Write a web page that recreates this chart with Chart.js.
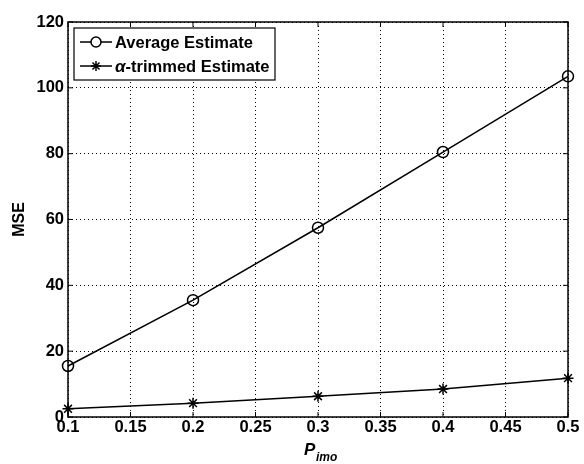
<!DOCTYPE html>
<html>
<head>
<meta charset="utf-8">
<script src="https://cdn.jsdelivr.net/npm/chart.js@4/dist/chart.umd.min.js"></script>
<style>
  html, body { margin: 0; padding: 0; background: #fff; }
  #wrap { width: 584px; height: 464px; }
</style>
</head>
<body>
<div id="wrap"><canvas id="mse-chart" width="584" height="464"></canvas></div>
<script>
// values
let pImo = [0.1, 0.2, 0.3, 0.4, 0.5];
let averageMse = [15.5, 35.5, 57.5, 80.5, 103.5];
let trimmedMse = [2.5, 4.2, 6.3, 8.5, 11.8];
let seriesNames = ['Average Estimate', '\u03b1-trimmed Estimate'];

const FAMILY = '"Liberation Sans", Arial, sans-serif';

function toPoints(xs, ys){
    return xs.map((x, i) => ({x: x, y: ys[i]}));
}

// box frame, inward ticks, legend inside the axes, x label with subscript
const matlabLook = {
    id: 'matlabLook',
    afterDraw(chart){
        const ctx = chart.ctx;
        const a = chart.chartArea;
        const xs = chart.scales.x, ys = chart.scales.y;
        ctx.save();
        ctx.strokeStyle = '#000';
        ctx.lineWidth = 1.5;
        ctx.strokeRect(a.left, a.top, a.right - a.left, a.bottom - a.top);

        ctx.lineWidth = 1;
        ctx.beginPath();
        xs.ticks.forEach(t => {
            const px = xs.getPixelForValue(t.value);
            ctx.moveTo(px, a.bottom); ctx.lineTo(px, a.bottom - 5);
            ctx.moveTo(px, a.top); ctx.lineTo(px, a.top + 5);
        });
        ys.ticks.forEach(t => {
            const py = ys.getPixelForValue(t.value);
            ctx.moveTo(a.left, py); ctx.lineTo(a.left + 5, py);
            ctx.moveTo(a.right, py); ctx.lineTo(a.right - 5, py);
        });
        ctx.stroke();

        // legend
        const lx = a.left + 6, ly = a.top + 6, lw = 201, lh = 52;
        ctx.fillStyle = '#fff';
        ctx.fillRect(lx, ly, lw, lh);
        ctx.lineWidth = 1.2;
        ctx.strokeRect(lx, ly, lw, lh);
        ctx.textBaseline = 'middle';
        chart.data.datasets.forEach((ds, i) => {
            const cy = ly + 14 + i * 24;
            ctx.lineWidth = 1.5;
            ctx.strokeStyle = '#000';
            ctx.beginPath();
            ctx.moveTo(lx + 6, cy); ctx.lineTo(lx + 38, cy);
            ctx.stroke();
            ctx.fillStyle = '#fff';
            Chart.helpers.drawPoint(ctx, {
                pointStyle: ds.pointStyle, radius: 5, borderWidth: 1.5
            }, lx + 22, cy);
            ctx.fillStyle = '#000';
            ctx.textAlign = 'left';
            let tx = lx + 41;
            let label = ds.label;
            if (label.charAt(0) === '\u03b1') {
                ctx.font = 'italic bold 17px ' + FAMILY;
                ctx.fillText('\u03b1', tx, cy + 1);
                tx += ctx.measureText('\u03b1').width;
                label = label.slice(1);
            }
            ctx.font = 'bold 16.5px ' + FAMILY;
            ctx.fillText(label, tx, cy + 1);
        });

        // x axis label P_imo
        ctx.fillStyle = '#000';
        ctx.font = 'italic bold 17px ' + FAMILY;
        ctx.textAlign = 'left';
        ctx.textBaseline = 'alphabetic';
        const cx = (a.left + a.right) / 2;
        ctx.fillText('P', cx - 14, 455);
        ctx.font = 'italic bold 12px ' + FAMILY;
        ctx.fillText('imo', cx - 2, 461);
        ctx.restore();
    }
};

let mseElement = document.getElementById('mse-chart').getContext('2d');

let mseChart = new Chart(mseElement, {
    type: 'line',
    data: {
        datasets: [
            {
                label: seriesNames[0],
                data: toPoints(pImo, averageMse),
                borderColor: '#000',
                borderWidth: 1.5,
                backgroundColor: 'rgba(0,0,0,0)',
                pointStyle: 'circle',
                pointRadius: 5.5,
                pointBorderWidth: 1.5,
                pointBorderColor: '#000',
                pointBackgroundColor: 'rgba(0,0,0,0)',
                tension: 0
            },
            {
                label: seriesNames[1],
                data: toPoints(pImo, trimmedMse),
                borderColor: '#000',
                borderWidth: 1.5,
                backgroundColor: 'rgba(0,0,0,0)',
                pointStyle: 'star',
                pointRadius: 5.5,
                pointBorderWidth: 1.5,
                pointBorderColor: '#000',
                tension: 0
            }
        ]
    },
    options: {
        responsive: false,
        animation: false,
        clip: false,
        layout: { padding: { left: 0, right: 16, top: 22, bottom: 0 } },
        plugins: {
            legend: { display: false },
            tooltip: { enabled: false }
        },
        scales: {
            x: {
                type: 'linear',
                min: 0.1,
                max: 0.5,
                afterFit(scale){ scale.height = 47; },
                ticks: {
                    stepSize: 0.05,
                    color: '#000',
                    font: { family: FAMILY, size: 16.5, weight: 'bold' },
                    maxRotation: 0,
                    padding: 1,
                    callback: v => String(parseFloat(v.toFixed(2)))
                },
                grid: { color: '#000', lineWidth: 1, drawTicks: false },
                border: { display: false, dash: [1, 3] }
            },
            y: {
                min: 0,
                max: 120,
                afterFit(scale){ scale.width = 68; },
                ticks: {
                    stepSize: 20,
                    color: '#000',
                    font: { family: FAMILY, size: 16.5, weight: 'bold' },
                    padding: 4
                },
                title: {
                    display: true,
                    text: 'MSE',
                    color: '#000',
                    font: { family: FAMILY, size: 16, weight: 'bold' },
                    padding: { top: 10, bottom: 4 }
                },
                grid: { color: '#000', lineWidth: 1, drawTicks: false },
                border: { display: false, dash: [1, 3] }
            }
        }
    },
    plugins: [matlabLook]
});
</script>
</body>
</html>
